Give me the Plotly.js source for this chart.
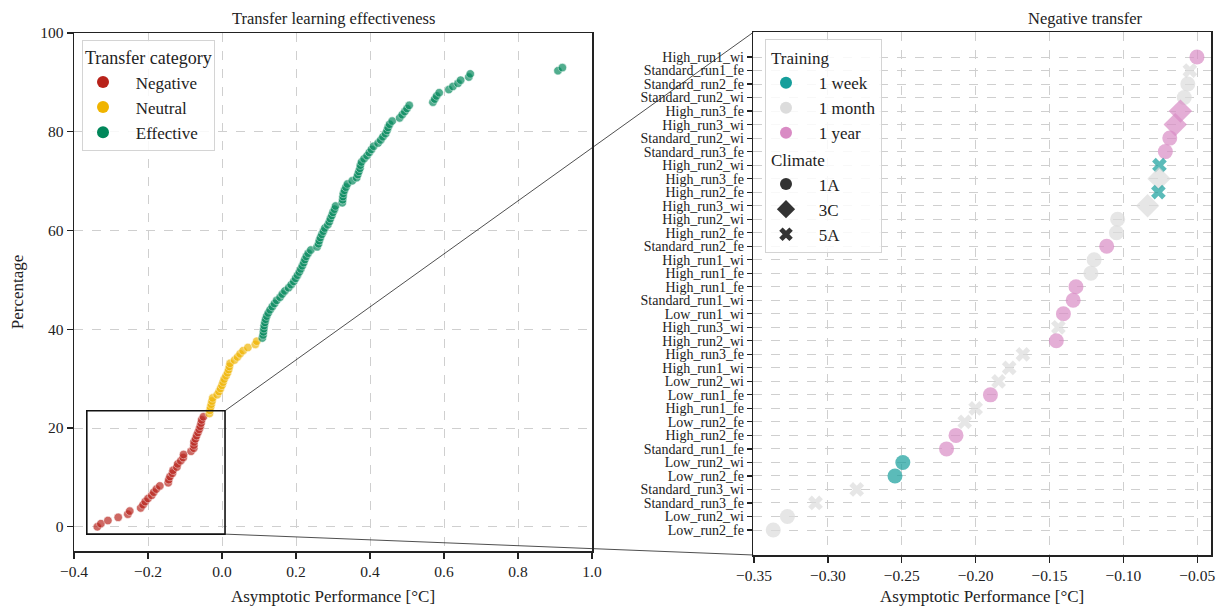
<!DOCTYPE html>
<html>
<head>
<meta charset="utf-8">
<script src="https://cdn.plot.ly/plotly-3.0.1.min.js"></script>
<style>html,body{margin:0;padding:0;background:#fff;}#chart{width:1217px;height:606px;}</style>
</head>
<body>
<div id="chart"></div>
<script>
// ---------------- DATA ----------------
// Right panel: negative-transfer cases, listed top to bottom
const runLabels = [
  "High_run1_wi","Standard_run1_fe","Standard_run2_fe","Standard_run2_wi","High_run3_fe","High_run3_wi",
  "Standard_run2_wi","Standard_run3_fe","High_run2_wi","High_run3_fe","High_run2_fe","High_run3_wi",
  "High_run2_wi","High_run2_fe","Standard_run2_fe","High_run1_wi","High_run1_fe","High_run1_fe",
  "Standard_run1_wi","Low_run1_wi","High_run3_wi","High_run2_wi","High_run3_fe","High_run1_wi",
  "Low_run2_wi","Low_run1_fe","High_run1_fe","Low_run2_fe","High_run2_fe","Standard_run1_fe",
  "Low_run2_wi","Low_run2_fe","Standard_run3_wi","Standard_run3_fe","Low_run2_wi","Low_run2_fe"
];
const runValues = [
  -0.0502,-0.0550,-0.0564,-0.0588,-0.0614,-0.0649,
  -0.0686,-0.0716,-0.0756,-0.0759,-0.0763,-0.0836,
  -0.1039,-0.1047,-0.1113,-0.1198,-0.1220,-0.1321,
  -0.1340,-0.1406,-0.1440,-0.1454,-0.1680,-0.1773,
  -0.1845,-0.1900,-0.2000,-0.2074,-0.2133,-0.2197,
  -0.2493,-0.2546,-0.2805,-0.3084,-0.3274,-0.3370
];
const runTraining = [
  "1 year","1 month","1 month","1 month","1 year","1 year",
  "1 year","1 year","1 week","1 month","1 week","1 month",
  "1 month","1 month","1 year","1 month","1 month","1 year",
  "1 year","1 year","1 month","1 year","1 month","1 month",
  "1 month","1 year","1 month","1 month","1 year","1 year",
  "1 week","1 week","1 month","1 month","1 month","1 month"
];
const runClimate = [
  "1A","5A","1A","1A","3C","3C",
  "1A","1A","5A","3C","5A","3C",
  "1A","1A","1A","1A","1A","1A",
  "1A","1A","5A","1A","5A","5A",
  "5A","1A","5A","5A","1A","1A",
  "1A","1A","5A","5A","1A","1A"
];
const trainingLevels = ["1 week","1 month","1 year"];
const climateLevels = ["1A","3C","5A"];

// Left panel: percentage (cumulative share) per category
const negativeY = [0.00,0.64,1.27,1.91,2.55,3.18,3.82,4.46,5.10,5.73,6.37,7.01,7.64,8.28,8.92,9.55,10.19,10.83,
  11.46,12.10,12.74,13.38,14.01,14.65,15.29,15.92,16.56,17.20,17.83,18.47,19.11,19.75,20.38,21.02,21.66,22.29];
const neutralX = [-0.034,-0.033,-0.031,-0.029,-0.027,-0.025,-0.013,-0.008,-0.004,0.000,0.003,0.006,
  0.011,0.015,0.018,0.020,0.022,0.034,0.042,0.049,0.057,0.070,0.090,0.094];
const neutralY = [22.93,23.57,24.20,24.84,25.48,26.11,26.75,27.39,28.03,28.66,29.30,29.94,
  30.57,31.21,31.85,32.48,33.12,33.76,34.39,35.03,35.67,36.31,36.94,37.58];
const effectiveX = [0.109,0.111,0.112,0.113,0.114,0.116,0.118,0.121,0.125,0.130,0.136,0.142,0.148,0.157,
  0.163,0.170,0.180,0.187,0.194,0.199,0.204,0.209,0.213,0.217,0.221,0.224,0.228,0.233,0.240,0.257,
  0.261,0.263,0.266,0.270,0.274,0.278,0.286,0.290,0.293,0.297,0.300,0.304,0.307,0.325,0.326,0.327,
  0.328,0.331,0.335,0.339,0.352,0.364,0.367,0.370,0.373,0.374,0.377,0.384,0.392,0.398,0.404,0.410,
  0.422,0.429,0.435,0.442,0.446,0.449,0.453,0.460,0.480,0.487,0.494,0.500,0.506,0.570,0.575,0.580,
  0.587,0.613,0.624,0.638,0.645,0.667,0.671,0.908,0.920];
const effectiveY = [38.22,38.85,39.49,40.13,40.76,41.40,42.04,42.68,43.31,43.95,44.59,45.22,45.86,46.50,
  47.13,47.77,48.41,49.04,49.68,50.32,50.96,51.59,52.23,52.87,53.50,54.14,54.78,55.41,56.05,56.69,
  57.32,57.96,58.60,59.24,59.87,60.51,61.15,61.78,62.42,63.06,63.69,64.33,64.97,65.61,66.24,66.88,
  67.52,68.15,68.79,69.43,70.06,70.70,71.34,71.97,72.61,73.25,73.89,74.52,75.16,75.80,76.43,77.07,
  77.71,78.34,78.98,79.62,80.25,80.89,81.53,82.17,82.80,83.44,84.08,84.71,85.35,85.99,86.62,87.26,
  87.90,88.54,89.17,89.81,90.45,91.08,91.72,92.36,92.99];
const categoryNames = ["Negative","Neutral","Effective"];

// ---------------- STYLE ----------------
const FONT = "Liberation Serif, Times New Roman, serif";
const INK = "#222";
const catColors = {Negative:"#b8221a", Neutral:"#f0b400", Effective:"#00875a"};
const trainColors = {"1 week":"#159e9b","1 month":"#dcdcdc","1 year":"#d98bc4"};
const climSymbols = {"1A":"circle","3C":"diamond","5A":"x"};
const climSizes = {"1A":15,"3C":18,"5A":13};
const PAD = "\u00a0\u00a0\u00a0";

// negative-transfer values sorted ascending for the left panel
const negativeX = runValues.slice().sort((a,b)=>a-b);

const traces = [];
const leftData = {Negative:[negativeX,negativeY], Neutral:[neutralX,neutralY], Effective:[effectiveX,effectiveY]};
categoryNames.forEach(c=>{
  traces.push({type:"scatter",mode:"markers",x:leftData[c][0],y:leftData[c][1],xaxis:"x",yaxis:"y",
    showlegend:false,hoverinfo:"x+y",
    marker:{color:catColors[c],size:8.5,opacity:0.68,line:{color:"#ffffff",width:0.6}}});
});
categoryNames.forEach(c=>{
  traces.push({type:"scatter",mode:"markers",x:[null],y:[null],xaxis:"x",yaxis:"y",name:PAD+c,
    legend:"legend",marker:{color:catColors[c],size:12}});
});

// right panel points
const rowIdx = runLabels.map((_,i)=>i);
traces.push({type:"scatter",mode:"markers",x:runValues,y:rowIdx,xaxis:"x2",yaxis:"y2",showlegend:false,
  text:runLabels,hoverinfo:"text+x",
  marker:{color:runTraining.map(t=>trainColors[t]),symbol:runClimate.map(c=>climSymbols[c]),
    size:runClimate.map(c=>climSizes[c]),line:{width:0}}});
trainingLevels.forEach((t,i)=>{
  traces.push({type:"scatter",mode:"markers",x:[null],y:[null],xaxis:"x2",yaxis:"y2",name:PAD+t,
    legend:"legend2",legendgroup:"training",legendgrouptitle:i===0?{text:"Training",font:{size:17,family:FONT,color:INK}}:undefined,
    marker:{color:trainColors[t],size:12,symbol:"circle"}});
});
climateLevels.forEach((c,i)=>{
  traces.push({type:"scatter",mode:"markers",x:[null],y:[null],xaxis:"x2",yaxis:"y2",name:PAD+c,
    legend:"legend2",legendgroup:"climate",legendgrouptitle:i===0?{text:"Climate",font:{size:17,family:FONT,color:INK}}:undefined,
    marker:{color:"#333333",size:c==="3C"?14:12,symbol:climSymbols[c]}});
});

// ---------------- LAYOUT ----------------
const W=1217,H=606;
const xDom1=[74/W,592/W], yDom1=[1-551/H,1-33/H];
const xDom2=[753.3/W,1211/W], yDom2=[1-555/H,1-32.3/H];
const xRange1=[-0.4,1.0], yRange1=[-4.9,100];
const zoomBox={x0:-0.3654,x1:0.0082,y0:-1.48,y1:23.5};
const px=(v,r,d)=>d[0]+(v-r[0])/(r[1]-r[0])*(d[1]-d[0]);

const gridStyle={showgrid:true,gridcolor:"#cfcfcf",griddash:"dash",gridwidth:1};
const axisCommon={showline:true,linecolor:INK,linewidth:1.5,mirror:true,ticks:"outside",ticklen:6,tickwidth:1.2,
  tickcolor:INK,zeroline:false,tickfont:{family:FONT,size:15.5,color:INK}};
const titleFont={family:FONT,size:17,color:INK};

const layout={
  width:W,height:H,margin:{l:0,r:0,t:0,b:0},paper_bgcolor:"#fff",plot_bgcolor:"#fff",
  font:{family:FONT,color:INK},
  xaxis:Object.assign({},axisCommon,gridStyle,{domain:xDom1,range:xRange1,tick0:-0.4,dtick:0.2,tickformat:".1f",anchor:"y",
    title:{text:"Asymptotic Performance [°C]",font:titleFont,standoff:12}}),
  yaxis:Object.assign({},axisCommon,gridStyle,{domain:yDom1,range:yRange1,tick0:0,dtick:20,anchor:"x",
    title:{text:"Percentage",font:titleFont,standoff:12}}),
  xaxis2:Object.assign({},axisCommon,gridStyle,{domain:xDom2,range:[-0.3505,-0.0407],tick0:-0.35,dtick:0.05,tickformat:".2f",anchor:"y2",
    title:{text:"Asymptotic Performance [°C]",font:titleFont,standoff:9}}),
  yaxis2:Object.assign({},axisCommon,gridStyle,{domain:yDom2,range:[36.85,-1.83],tickvals:rowIdx,ticktext:runLabels,anchor:"x2",ticklen:5,
    tickfont:{family:FONT,size:14,color:INK}}),
  legend:{x:82/W,y:1-40/H,xanchor:"left",yanchor:"top",bgcolor:"rgba(255,255,255,0.85)",bordercolor:"#d4d4d4",borderwidth:1,
    font:{family:FONT,size:17,color:INK},title:{text:"Transfer category",font:{family:FONT,size:18,color:INK}},itemsizing:"trace"},
  legend2:{x:765/W,y:1-39/H,xanchor:"left",yanchor:"top",bgcolor:"rgba(255,255,255,0.85)",bordercolor:"#d4d4d4",borderwidth:1,
    font:{family:FONT,size:17,color:INK},tracegroupgap:1,groupclick:"toggleitem"},
  annotations:[
    {text:"Transfer learning effectiveness",xref:"paper",yref:"paper",x:(xDom1[0]+xDom1[1])/2,y:1-18/H,xanchor:"center",yanchor:"middle",
      showarrow:false,font:{family:FONT,size:16.5,color:INK}},
    {text:"Negative transfer",xref:"paper",yref:"paper",x:1085/W,y:1-18/H,xanchor:"center",yanchor:"middle",
      showarrow:false,font:{family:FONT,size:16.5,color:INK}}
  ],
  shapes:[
    {type:"rect",xref:"x",yref:"y",x0:zoomBox.x0,x1:zoomBox.x1,y0:zoomBox.y0,y1:zoomBox.y1,line:{color:"#111",width:1.6},layer:"above"},
    {type:"line",xref:"paper",yref:"paper",x0:px(zoomBox.x1,xRange1,xDom1),y0:px(zoomBox.y1,yRange1,yDom1),x1:xDom2[0],y1:yDom2[1],
      line:{color:INK,width:0.8},layer:"above"},
    {type:"line",xref:"paper",yref:"paper",x0:px(zoomBox.x1,xRange1,xDom1),y0:px(zoomBox.y0,yRange1,yDom1),x1:xDom2[0],y1:yDom2[0],
      line:{color:INK,width:0.8},layer:"above"}
  ]
};
Plotly.newPlot("chart",traces,layout,{displayModeBar:false,staticPlot:true});
</script>
</body>
</html>
